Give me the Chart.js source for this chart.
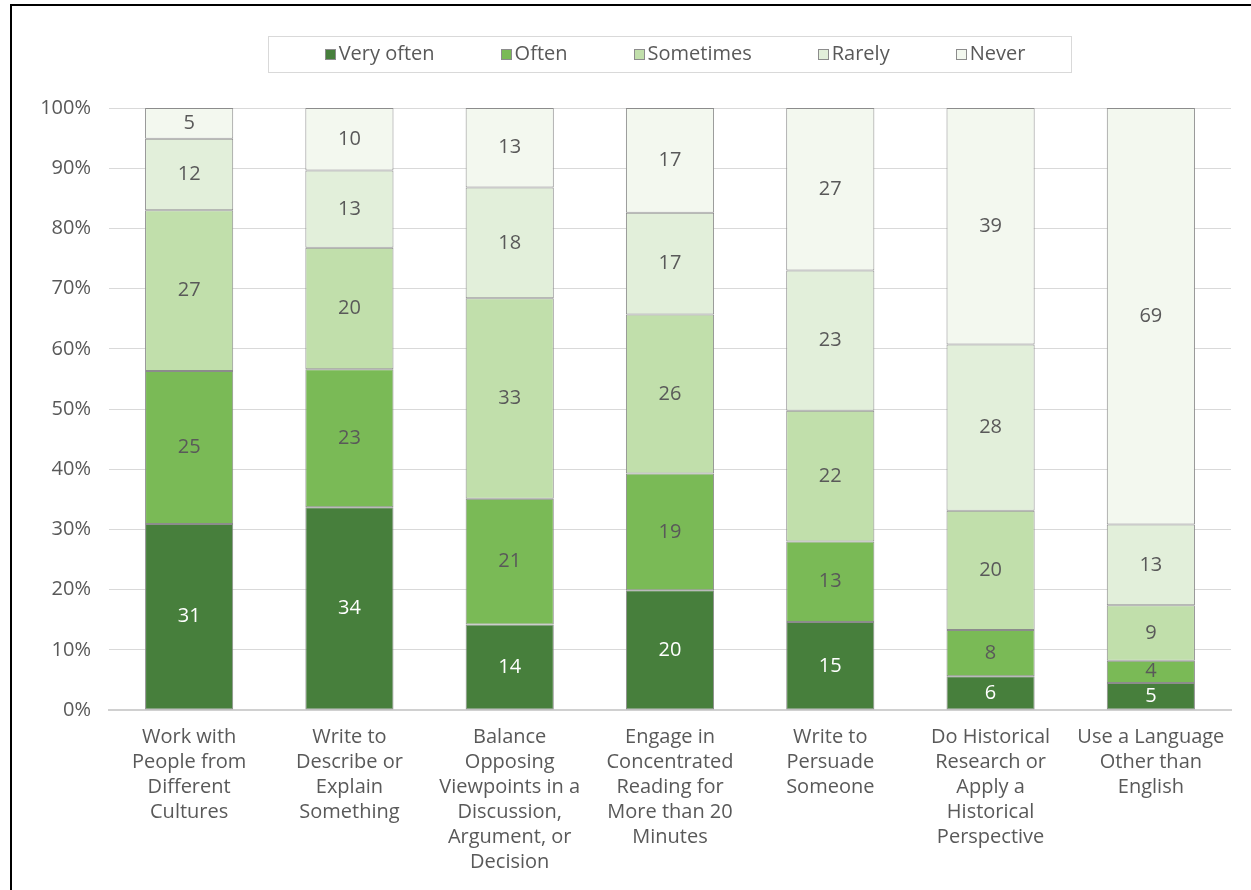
<!DOCTYPE html>
<html lang="en">
<head>
  <meta charset="UTF-8">
  <title>Engagement frequency</title>
  <script src="https://cdn.jsdelivr.net/npm/chart.js"></script>
  <style>
    body { margin: 0; background: #fff; font-family: 'Open Sans', sans-serif; }
    #wrap { position: relative; width: 1251px; height: 890px; overflow: hidden; }
    #frame {
      position: absolute; left: 10px; top: 4px; right: -10px; bottom: -10px;
      border-left: 2px solid #000; border-top: 2px solid #000;
      pointer-events: none;
    }
    #chart { position: absolute; left: 0; top: 0; }
    #legend {
      position: absolute; left: 268px; top: 36px; width: 804px; height: 37px;
      box-sizing: border-box; border: 1px solid #d9d9d9;
      display: flex; justify-content: center; align-items: center;
      font-size: 20px; color: #595959; padding-left: 10px; padding-bottom: 3px;
    }
    #legend .item { display: flex; align-items: center; margin: 0 33px; line-height: 1; }
    #legend .sw {
      width: 11px; height: 11px; box-sizing: border-box;
      border: 1px solid #8c8c8c; margin-right: 3px; margin-top: 2px;
    }
  </style>
</head>
<body>
  <div id="wrap">
    <canvas id="chart" width="1251" height="890"></canvas>
    <div id="legend"></div>
    <div id="frame"></div>
  </div>
  <script>
    // Categories (multi-line axis labels)
    const categories = [
      ['Work with', 'People from', 'Different', 'Cultures'],
      ['Write to', 'Describe or', 'Explain', 'Something'],
      ['Balance', 'Opposing', 'Viewpoints in a', 'Discussion,', 'Argument, or', 'Decision'],
      ['Engage in', 'Concentrated', 'Reading for', 'More than 20', 'Minutes'],
      ['Write to', 'Persuade', 'Someone'],
      ['Do Historical', 'Research or', 'Apply a', 'Historical', 'Perspective'],
      ['Use a Language', 'Other than', 'English']
    ];

    // Percent of respondents per answer
    const veryOften = [30.9, 33.7, 14.2, 19.9, 14.6, 5.6, 4.5];
    const often     = [25.4, 22.9, 20.9, 19.4, 13.4, 7.7, 3.7];
    const sometimes = [26.7, 20.2, 33.3, 26.4, 21.7, 19.8, 9.2];
    const rarely    = [11.9, 12.8, 18.4, 16.9, 23.3, 27.6, 13.4];
    const never     = [5.1, 10.4, 13.2, 17.4, 27.0, 39.3, 69.2];

    const seriesNames = ['Very often', 'Often', 'Sometimes', 'Rarely', 'Never'];
    const seriesData = [veryOften, often, sometimes, rarely, never];
    const seriesColors = ['#477f3c', '#7aba56', '#c1dfab', '#e2efda', '#f3f8ef'];

    const yTicks = [0, 10, 20, 30, 40, 50, 60, 70, 80, 90, 100];

    const textColor = '#595959';
    const fontFamily = "'Open Sans', sans-serif";

    // labels in the middle of each segment
    const segmentLabels = {
      id: 'segmentLabels',
      afterDatasetsDraw(chart) {
        const ctx = chart.ctx;
        ctx.save();
        ctx.font = '20px ' + fontFamily;
        ctx.textAlign = 'center';
        ctx.textBaseline = 'middle';
        chart.data.datasets.forEach((ds, i) => {
          const meta = chart.getDatasetMeta(i);
          ctx.fillStyle = i === 0 ? '#ffffff' : textColor;
          meta.data.forEach((bar, j) => {
            const v = ds.data[j];
            ctx.fillText(Math.round(v), bar.x, (bar.y + bar.base) / 2);
          });
        });
        ctx.restore();
      }
    };

    const datasets = seriesNames.map((name, i) => ({
      label: name,
      data: seriesData[i],
      backgroundColor: seriesColors[i],
      borderColor: '#8c8c8c',
      borderWidth: 1,
      borderSkipped: false,
      barPercentage: 0.55,
      categoryPercentage: 1.0
    }));

    const chart = new Chart(document.getElementById('chart'), {
      type: 'bar',
      data: { labels: categories, datasets: datasets },
      options: {
        responsive: false,
        animation: false,
        layout: { padding: { left: 20, right: 20, top: 108, bottom: 0 } },
        plugins: {
          legend: { display: false },
          tooltip: { enabled: false }
        },
        scales: {
          x: {
            stacked: true,
            grid: { display: false, drawTicks: false },
            border: { display: true, color: '#d0d0d0', width: 2 },
            ticks: {
              color: textColor,
              font: { family: fontFamily, size: 20, lineHeight: 1.25 },
              padding: 15,
              maxRotation: 0,
              minRotation: 0,
              autoSkip: false
            },
            afterFit(scale) { scale.height = 180; }
          },
          y: {
            stacked: true,
            min: 0,
            max: 100,
            afterBuildTicks(scale) {
              scale.ticks = yTicks.map(v => ({ value: v }));
            },
            grid: { color: '#d9d9d9', drawTicks: false },
            border: { display: false },
            ticks: {
              color: textColor,
              font: { family: fontFamily, size: 20 },
              padding: 18,
              callback: v => v + '%'
            },
            afterFit(scale) { scale.width = 89; }
          }
        }
      },
      plugins: [segmentLabels]
    });

    // html legend with a border box, built from the datasets
    const legend = document.getElementById('legend');
    chart.data.datasets.forEach(ds => {
      const item = document.createElement('div');
      item.className = 'item';
      const sw = document.createElement('span');
      sw.className = 'sw';
      sw.style.background = ds.backgroundColor;
      const txt = document.createElement('span');
      txt.textContent = ds.label;
      item.appendChild(sw);
      item.appendChild(txt);
      legend.appendChild(item);
    });
  </script>
</body>
</html>
